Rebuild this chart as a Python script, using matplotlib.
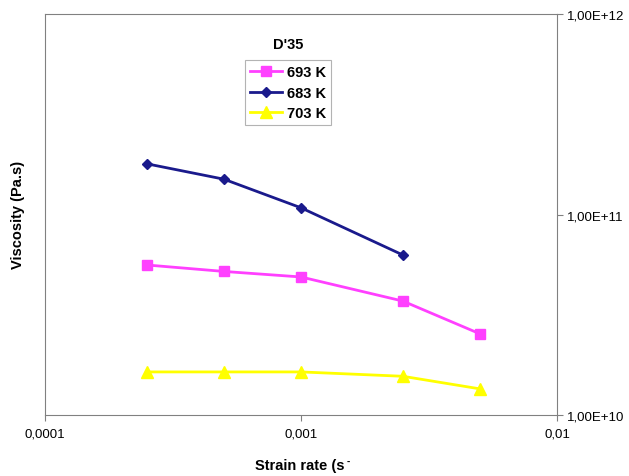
import matplotlib
matplotlib.use("Agg")
from matplotlib import pyplot as plt
from matplotlib.ticker import FixedLocator, FixedFormatter, NullLocator

plt.rcParams['font.family'] = ['Liberation Sans', 'DejaVu Sans']

# strain rate (1/s)
rate_693 = [2.5e-4, 5e-4, 1e-3, 2.5e-3, 5e-3]
visc_693 = [5.6e10, 5.2e10, 4.88e10, 3.7e10, 2.54e10]

rate_683 = [2.5e-4, 5e-4, 1e-3, 2.5e-3]
visc_683 = [1.79e11, 1.50e11, 1.08e11, 6.28e10]

rate_703 = [2.5e-4, 5e-4, 1e-3, 2.5e-3, 5e-3]
visc_703 = [1.64e10, 1.64e10, 1.64e10, 1.56e10, 1.35e10]

xticks = [1e-4, 1e-3, 1e-2]
xlabels = ['0,0001', '0,001', '0,01']
yticks = [1e10, 1e11, 1e12]
ylabels = ['1,00E+10', '1,00E+11', '1,00E+12']

fig = plt.figure(figsize=(6.29, 4.77), dpi=100)
ax = fig.add_axes([45/629, 61/477, 512/629, 401/477])

ax.plot(rate_693, visc_693, color='#FF40FF', lw=2, marker='s', ms=7, label='693 K')
ax.plot(rate_683, visc_683, color='#1A1A8C', lw=2, marker='D', ms=5.5, label='683 K')
ax.plot(rate_703, visc_703, color='#FFFF00', lw=2, marker='^', ms=8, label='703 K')

ax.set_xscale('log')
ax.set_yscale('log')
ax.set_xlim(1e-4, 1e-2)
ax.set_ylim(1e10, 1e12)

ax.xaxis.set_major_locator(FixedLocator(xticks))
ax.xaxis.set_major_formatter(FixedFormatter(xlabels))
ax.xaxis.set_minor_locator(NullLocator())
ax.yaxis.set_major_locator(FixedLocator(yticks))
ax.yaxis.set_major_formatter(FixedFormatter(ylabels))
ax.yaxis.set_minor_locator(NullLocator())
ax.yaxis.tick_right()

for s in ax.spines.values():
    s.set_color('#808080')
    s.set_linewidth(0.8)
ax.tick_params(axis='both', colors='#808080', labelcolor='black', labelsize=9.5,
               length=4, width=0.8, direction='out')
ax.tick_params(axis='x', pad=5)
ax.tick_params(axis='y', pad=3)

xl = fig.text(300/629, 1 - 466/477, 'Strain rate (s', ha='center', va='center',
              fontsize=10.5, fontweight='bold')
fig.canvas.draw()
bb = xl.get_window_extent(fig.canvas.get_renderer())
# little superscript dash right after the label
fig.text((bb.x1 + 1.5) / 629, (bb.y1 - 6) / 477, '-', ha='left', va='baseline',
         fontsize=7, fontweight='bold')

fig.text(18/629, 1 - 215/477, 'Viscosity (Pa.s)', ha='center', va='center',
         rotation=90, fontsize=10.5, fontweight='bold')
fig.text(288/629, 1 - 45/477, "D'35", ha='center', va='center',
         fontsize=10.5, fontweight='bold')

leg = ax.legend(loc='upper left', bbox_to_anchor=(245/629, 1 - 61/477),
                bbox_transform=fig.transFigure, frameon=True, fancybox=False,
                borderpad=0.35, labelspacing=0.45, handlelength=2.2, handletextpad=0.3,
                borderaxespad=0, prop={'weight': 'bold', 'size': 10.5})
leg.get_frame().set_edgecolor('#A0A0A0')
leg.get_frame().set_linewidth(0.8)

fig.savefig('out.png', dpi=100)
